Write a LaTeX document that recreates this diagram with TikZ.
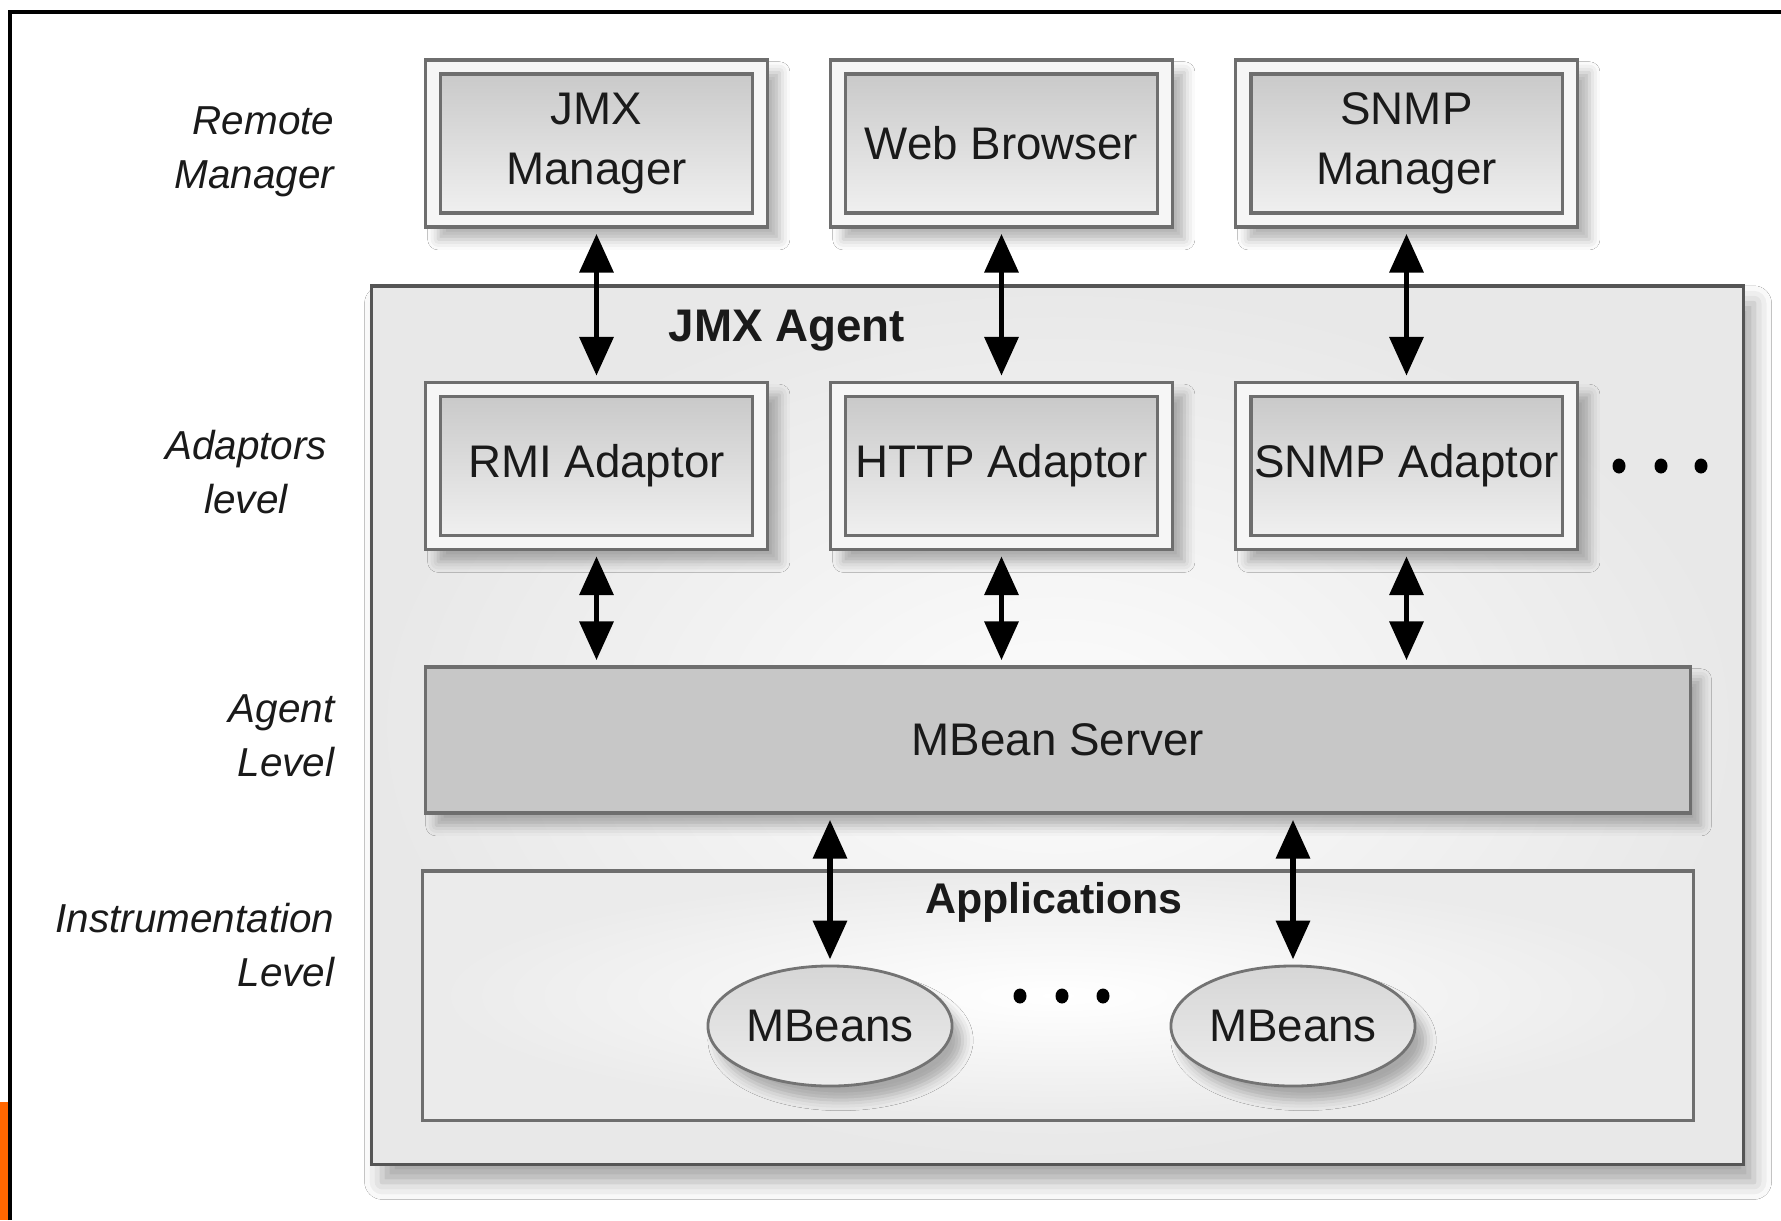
\documentclass[tikz,border=0pt]{standalone}
\usepackage{fontspec}
\setmainfont{Liberation Sans}
\usetikzlibrary{arrows.meta,shapes.geometric,shadows.blur}
\definecolor{bordergray}{HTML}{6E6E6E}
\definecolor{framegray}{HTML}{555555}
\definecolor{txt}{HTML}{1A1A1A}
\definecolor{orangebar}{HTML}{FF6600}
\newcommand{\boxfont}{\fontsize{13}{17}\selectfont}
\newcommand{\lblfont}{\fontsize{11.5}{15.5}\selectfont\itshape}
\begin{document}
\begin{tikzpicture}[x=0.01cm,y=-0.01cm,
  every node/.style={text=txt},
  outerbox/.style={draw=bordergray, line width=0.9pt, fill=gray!7, minimum width=3.41cm, minimum height=1.67cm, inner sep=0pt,
     blur shadow={shadow xshift=3.5pt, shadow yshift=-3.5pt, shadow blur radius=3pt, shadow opacity=30}},
  innerbox/.style={draw=bordergray, line width=0.9pt, top color=gray!42, bottom color=gray!12, minimum width=3.11cm, minimum height=1.39cm, inner sep=0pt, font=\boxfont, align=center},
  lbl/.style={font=\lblfont, align=right, anchor=east, inner sep=0pt},
  arr/.style={{Triangle[length=11pt,width=9.5pt]}-{Triangle[length=11pt,width=9.5pt]}, line width=1.5pt, black, shorten <=1.5pt, shorten >=1.5pt},
  bigbox/.style={draw=framegray, line width=1pt, inner color=gray!2, outer color=gray!18, inner sep=0pt},
  dotmark/.style={ellipse, fill=black, minimum width=0.13cm, minimum height=0.15cm, inner sep=0pt},
  beans/.style={ellipse, draw=gray!110, line width=0.8pt, top color=gray!32, bottom color=gray!14, minimum width=2.44cm, minimum height=1.20cm, inner sep=0pt, font=\boxfont,
     blur shadow={shadow xshift=3pt, shadow yshift=-4pt, shadow blur radius=3pt, shadow opacity=30}}
]
\useasboundingbox (0,0) rectangle (1781,1220);
\fill[white] (0,0) rectangle (1781,1220);
% frame
\fill[orangebar] (0,1102) rectangle (8,1220);
\draw[black, line width=1.15pt] (10,1220) -- (10,12) -- (1781,12);

% JMX agent
\node[bigbox, minimum width=13.71cm, minimum height=8.78cm,
  blur shadow={shadow xshift=3pt, shadow yshift=-5pt, shadow blur radius=5pt, shadow opacity=35}] (agent) at (1057.5,725) {};
\node[font=\fontsize{13}{17}\selectfont\bfseries] (agentlbl) at (787,331) {JMX Agent};

% labels
\node[lbl] (l1) at (335,152) {Remote\\Manager};
\node[font=\lblfont, align=center, inner sep=0pt] (l2) at (246,472) {Adaptors\\level};
\node[lbl] (l3) at (335,736) {Agent\\Level};
\node[lbl] (l4) at (335,945) {Instrumentation\\Level};

% top row
\node[outerbox] (jmxo) at (596.5,143.5) {};
\node[innerbox] (jmx) at (jmxo.center) {JMX\\Manager};
\node[outerbox] (webo) at (1001.5,143.5) {};
\node[innerbox] (web) at (webo.center) {Web Browser};
\node[outerbox] (snmpo) at (1406.5,143.5) {};
\node[innerbox] (snmp) at (snmpo.center) {SNMP\\Manager};

% adaptors
\node[outerbox] (rmio) at (596.5,466) {};
\node[innerbox] (rmi) at (rmio.center) {RMI Adaptor};
\node[outerbox] (httpo) at (1001.5,466) {};
\node[innerbox] (http) at (httpo.center) {HTTP Adaptor};
\node[outerbox] (snmpao) at (1406.5,466) {};
\node[innerbox] (snmpa) at (snmpao.center) {SNMP Adaptor};
\node[dotmark] (d1) at (1619,466) {};
\node[dotmark] (d2) at (1661,466) {};
\node[dotmark] (d3) at (1701,466) {};

% MBean server
\node[draw=bordergray, line width=0.9pt, fill=gray!44, minimum width=12.64cm, minimum height=1.46cm, inner sep=0pt, font=\boxfont,
  blur shadow={shadow xshift=3pt, shadow yshift=-3.5pt, shadow blur radius=3pt, shadow opacity=30}] (server) at (1058,740) {MBean Server};

% Applications
\node[draw=bordergray, line width=0.9pt, inner color=white, outer color=gray!16, minimum width=12.70cm, minimum height=2.49cm, inner sep=0pt] (apps) at (1058,995.5) {};
\node[font=\fontsize{12.2}{16}\selectfont\bfseries] (appslbl) at (1054,902) {Applications};
\node[beans] (mb1) at (830,1026) {MBeans};
\node[beans] (mb2) at (1293,1026) {MBeans};
\node[dotmark] (e1) at (1020,996) {};
\node[dotmark] (e2) at (1062,996) {};
\node[dotmark] (e3) at (1103,996) {};

% arrows
\draw[arr] (jmxo.south) -- (rmio.north);
\draw[arr] (webo.south) -- (httpo.north);
\draw[arr] (snmpo.south) -- (snmpao.north);
\draw[arr] (rmio.south) -- (rmio.south |- server.north);
\draw[arr] (httpo.south) -- (httpo.south |- server.north);
\draw[arr] (snmpao.south) -- (snmpao.south |- server.north);
\draw[arr] (mb1.north |- server.south) -- (mb1.north);
\draw[arr] (mb2.north |- server.south) -- (mb2.north);
\end{tikzpicture}
\end{document}
